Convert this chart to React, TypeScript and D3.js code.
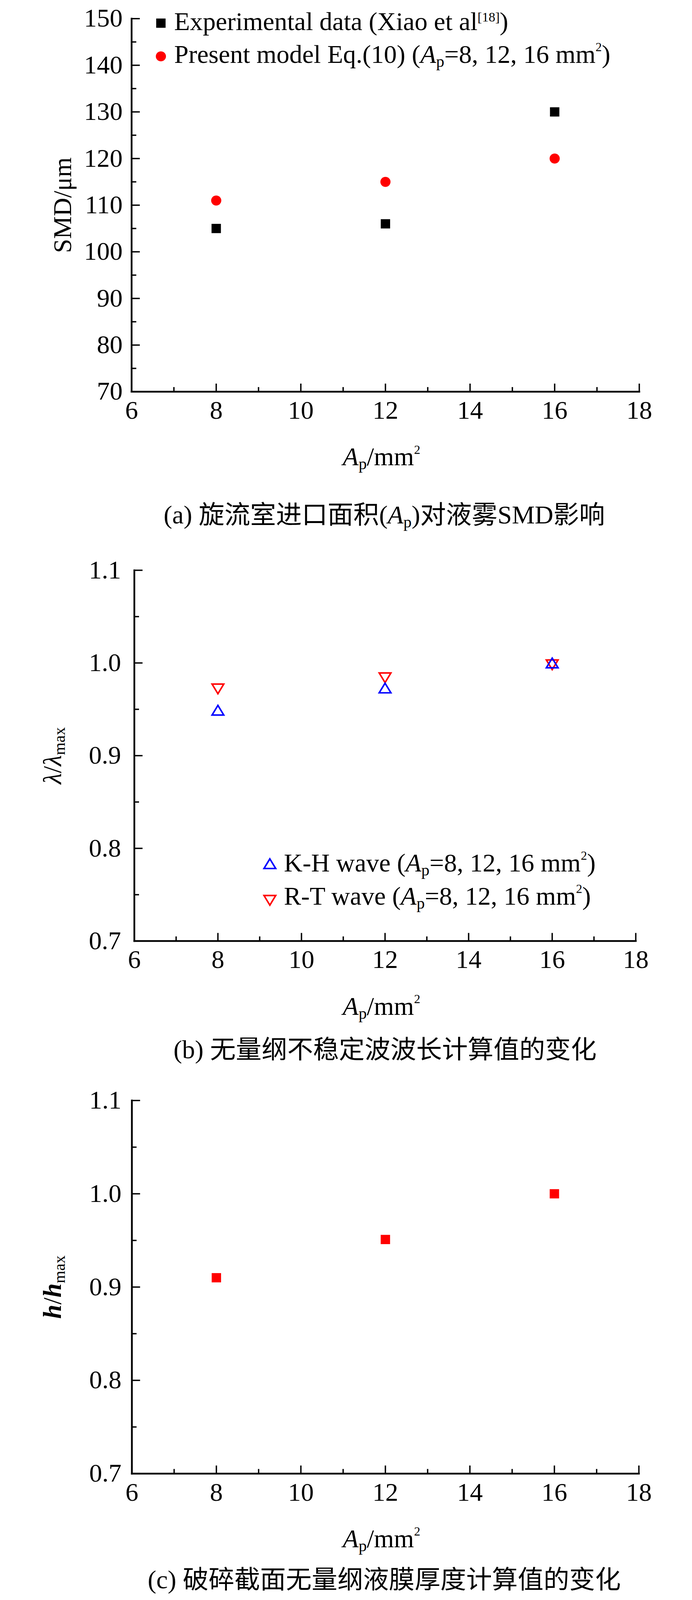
import React from 'react';
import * as d3 from 'd3';

// ---------- data ----------
const areaAp = [8, 12, 16];
const xMajor = [6, 8, 10, 12, 14, 16, 18];
const xMinor = [7, 9, 11, 13, 15, 17];

const smdExperimental = [105, 106, 130];
const smdModel = [111, 115, 120];
const smdMajor = [70, 80, 90, 100, 110, 120, 130, 140, 150];
const smdMinor = [75, 85, 95, 105, 115, 125, 135, 145];

const lambdaKH = [0.949, 0.973, 1.0];
const lambdaRT = [0.972, 0.984, 0.998];
const thicknessH = [0.91, 0.951, 1.0];
const ratioMajor = [0.7, 0.8, 0.9, 1.0, 1.1];
const ratioMinor = [0.75, 0.85, 0.95, 1.05];

const FONT = "'Liberation Serif', 'Times New Roman', 'Noto Sans CJK SC', serif";
const FS = 66;
const RED = '#ff0000';
const BLUE = '#0000ff';

type Part = { t: string; i?: boolean; b?: boolean; size?: number; shift?: number };

const SUB = (t: string): Part => ({ t, size: 42, shift: 10 });
const SUP = (t: string): Part => ({ t, size: 32, shift: -30 });

function Rich(props: { parts: Part[]; x: number; y: number; anchor?: string; transform?: string }) {
  let cur = 0;
  return (
    <text
      x={props.x}
      y={props.y}
      textAnchor={props.anchor || 'start'}
      fontSize={FS}
      fontFamily={FONT}
      fill="#000"
      transform={props.transform}
      style={{ whiteSpace: 'pre' }}
    >
      {props.parts.map((p, k) => {
        const s = p.shift ?? 0;
        const dy = s - cur;
        cur = s;
        return (
          <tspan
            key={k}
            dy={dy !== 0 ? dy : undefined}
            fontStyle={p.i ? 'italic' : undefined}
            fontWeight={p.b ? 'bold' : undefined}
            fontSize={p.size}
          >
            {p.t}
          </tspan>
        );
      })}
    </text>
  );
}

type PanelCfg = {
  x0: number;
  x1: number;
  yTop: number;
  yBot: number;
  yDomain: [number, number];
  yMajor: number[];
  yMinor: number[];
  yFmt: (v: number) => string;
  labelEnd: number;
};

function Axes({ cfg, x, y }: { cfg: PanelCfg; x: d3.ScaleLinear<number, number>; y: d3.ScaleLinear<number, number> }) {
  const sw = 4.5;
  return (
    <g>
      <line x1={cfg.x0} x2={cfg.x0} y1={y(cfg.yDomain[1])} y2={y(cfg.yDomain[0])} stroke="#000" strokeWidth={sw} strokeLinecap="square" />
      <line x1={x(6)} x2={x(18)} y1={cfg.yBot} y2={cfg.yBot} stroke="#000" strokeWidth={sw} strokeLinecap="square" />
      {xMajor.map((v) => (
        <line key={'xm' + v} x1={x(v)} x2={x(v)} y1={cfg.yBot} y2={cfg.yBot - 21} stroke="#000" strokeWidth={3.5} />
      ))}
      {xMinor.map((v) => (
        <line key={'xn' + v} x1={x(v)} x2={x(v)} y1={cfg.yBot} y2={cfg.yBot - 12} stroke="#000" strokeWidth={3.5} />
      ))}
      {cfg.yMajor.map((v) => (
        <line key={'ym' + v} x1={cfg.x0} x2={cfg.x0 + 21} y1={y(v)} y2={y(v)} stroke="#000" strokeWidth={3.5} />
      ))}
      {cfg.yMinor.map((v) => (
        <line key={'yn' + v} x1={cfg.x0} x2={cfg.x0 + 12} y1={y(v)} y2={y(v)} stroke="#000" strokeWidth={3.5} />
      ))}
      {xMajor.map((v) => (
        <text key={'xl' + v} x={x(v)} y={cfg.yBot + 70} textAnchor="middle" fontSize={FS} fontFamily={FONT}>
          {String(v)}
        </text>
      ))}
      {cfg.yMajor.map((v) => (
        <text key={'yl' + v} x={cfg.labelEnd} y={y(v) + 21} textAnchor="end" fontSize={FS} fontFamily={FONT}>
          {cfg.yFmt(v)}
        </text>
      ))}
      <Rich x={977} y={cfg.yBot + 191} anchor="middle" parts={[{ t: 'A', i: true }, SUB('p'), { t: '/mm' }, SUP('2')]} />
    </g>
  );
}

function triPath(cx: number, cy: number, up: boolean) {
  const w = 30;
  const h = 25;
  const p = d3.path();
  if (up) {
    p.moveTo(cx, cy - h / 2);
    p.lineTo(cx + w / 2, cy + h / 2);
    p.lineTo(cx - w / 2, cy + h / 2);
  } else {
    p.moveTo(cx, cy + h / 2);
    p.lineTo(cx + w / 2, cy - h / 2);
    p.lineTo(cx - w / 2, cy - h / 2);
  }
  p.closePath();
  return p.toString();
}

const cfgA: PanelCfg = {
  x0: 337, x1: 1637, yTop: 48.3, yBot: 1015, yDomain: [70, 150],
  yMajor: smdMajor, yMinor: smdMinor, yFmt: (v) => String(v), labelEnd: 314,
};
const cfgB: PanelCfg = {
  x0: 344, x1: 1628, yTop: 1477.7, yBot: 2438.5, yDomain: [0.7, 1.1],
  yMajor: ratioMajor, yMinor: ratioMinor, yFmt: (v) => v.toFixed(1), labelEnd: 310,
};
const cfgC: PanelCfg = {
  x0: 337.7, x1: 1636, yTop: 2851.7, yBot: 3818.5, yDomain: [0.7, 1.1],
  yMajor: ratioMajor, yMinor: ratioMinor, yFmt: (v) => v.toFixed(1), labelEnd: 311,
};

function scales(cfg: PanelCfg) {
  const x = d3.scaleLinear().domain([6, 18]).range([cfg.x0, cfg.x1]);
  const y = d3.scaleLinear().domain(cfg.yDomain).range([cfg.yBot, cfg.yTop]);
  return { x, y };
}

function PanelA() {
  const { x, y } = scales(cfgA);
  const sq = 24;
  return (
    <g>
      <Axes cfg={cfgA} x={x} y={y} />
      {areaAp.map((a, i) => (
        <rect key={'e' + i} x={x(a) - sq / 2} y={y(smdExperimental[i]) - sq / 2} width={sq} height={sq} fill="#000" />
      ))}
      {areaAp.map((a, i) => (
        <circle key={'m' + i} cx={x(a)} cy={y(smdModel[i])} r={13} fill={RED} />
      ))}
      {/* legend */}
      <rect x={412 - 12} y={60 - 12} width={24} height={24} fill="#000" />
      <circle cx={412} cy={146} r={13} fill={RED} />
      <Rich x={446} y={78} parts={[{ t: 'Experimental data (Xiao et al' }, { t: '[18]', size: 34, shift: -22 }, { t: ')' }]} />
      <Rich
        x={446}
        y={163}
        parts={[{ t: 'Present model Eq.(10) (' }, { t: 'A', i: true }, SUB('p'), { t: '=8, 12, 16 mm' }, SUP('2'), { t: ')' }]}
      />
      <Rich
        x={182}
        y={531.7}
        anchor="middle"
        transform="rotate(-90 182 531.7)"
        parts={[{ t: 'SMD/μm' }]}
      />
      <Rich
        x={984}
        y={1356}
        anchor="middle"
        parts={[{ t: '(a) 旋流室进口面积(' }, { t: 'A', i: true }, SUB('p'), { t: ')对液雾SMD影响' }]}
      />
    </g>
  );
}

function PanelB() {
  const { x, y } = scales(cfgB);
  const cy = (cfgB.yTop + cfgB.yBot) / 2;
  return (
    <g>
      <Axes cfg={cfgB} x={x} y={y} />
      {areaAp.map((a, i) => (
        <path key={'rt' + i} d={triPath(x(a), y(lambdaRT[i]), false)} fill="none" stroke={RED} strokeWidth={4} />
      ))}
      {areaAp.map((a, i) => (
        <path key={'kh' + i} d={triPath(x(a), y(lambdaKH[i]), true)} fill="none" stroke={BLUE} strokeWidth={4} />
      ))}
      <path d={triPath(691, 2238, true)} fill="none" stroke={BLUE} strokeWidth={4} />
      <path d={triPath(691, 2333, false)} fill="none" stroke={RED} strokeWidth={4} />
      <Rich x={727} y={2258} parts={[{ t: 'K-H wave (' }, { t: 'A', i: true }, SUB('p'), { t: '=8, 12, 16 mm' }, SUP('2'), { t: ')' }]} />
      <Rich x={727} y={2344} parts={[{ t: 'R-T wave (' }, { t: 'A', i: true }, SUB('p'), { t: '=8, 12, 16 mm' }, SUP('2'), { t: ')' }]} />
      <Rich
        x={156}
        y={cy}
        anchor="middle"
        transform={`rotate(-90 156 ${cy})`}
        parts={[{ t: 'λ', i: true }, { t: '/' }, { t: 'λ', i: true }, { t: 'max', size: 42, shift: 10 }]}
      />
      <Rich x={986} y={2742} anchor="middle" parts={[{ t: '(b) 无量纲不稳定波波长计算值的变化' }]} />
    </g>
  );
}

function PanelC() {
  const { x, y } = scales(cfgC);
  const sq = 24;
  const cy = (cfgC.yTop + cfgC.yBot) / 2;
  return (
    <g>
      <Axes cfg={cfgC} x={x} y={y} />
      {areaAp.map((a, i) => (
        <rect key={'h' + i} x={x(a) - sq / 2} y={y(thicknessH[i]) - sq / 2} width={sq} height={sq} fill={RED} />
      ))}
      <Rich
        x={156}
        y={cy}
        anchor="middle"
        transform={`rotate(-90 156 ${cy})`}
        parts={[{ t: 'h', i: true, b: true }, { t: '/' }, { t: 'h', i: true, b: true }, { t: 'max', size: 42, shift: 10 }]}
      />
      <Rich x={984} y={4116} anchor="middle" parts={[{ t: '(c) 破碎截面无量纲液膜厚度计算值的变化' }]} />
    </g>
  );
}

export default function App() {
  return (
    <svg
      viewBox="0 0 1772 4146"
      preserveAspectRatio="none"
      style={{ position: 'fixed', left: 0, top: 0, width: '100vw', height: '100vh', background: '#fff', display: 'block' }}
    >
      <rect x={0} y={0} width={1772} height={4146} fill="#fff" />
      <PanelA />
      <PanelB />
      <PanelC />
    </svg>
  );
}
